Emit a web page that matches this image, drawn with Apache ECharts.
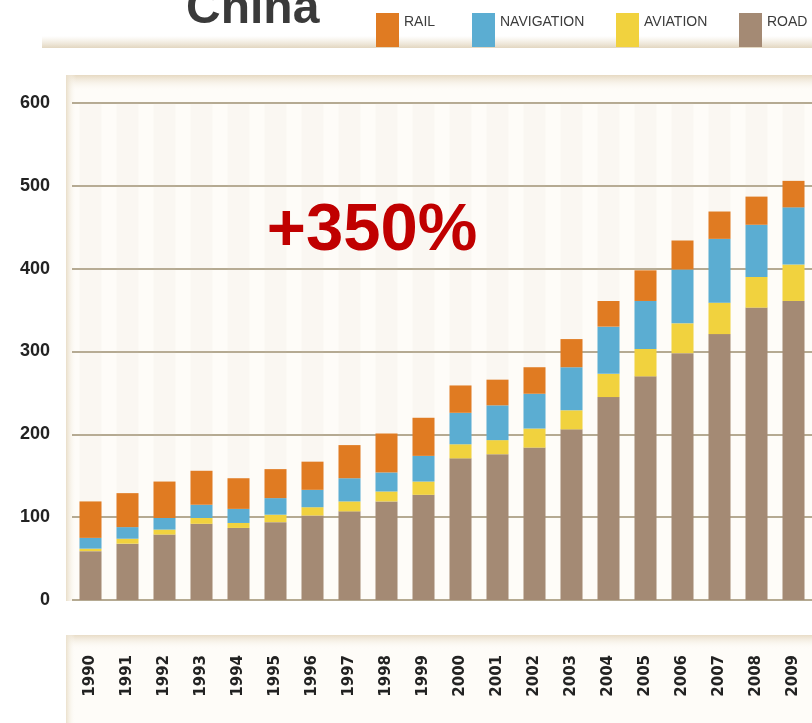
<!DOCTYPE html>
<html>
<head>
<meta charset="utf-8">
<script src="https://cdn.jsdelivr.net/npm/echarts@6/dist/echarts.min.js"></script>
<style>
  html, body { margin: 0; padding: 0; background: #fff; }
  #chart { width: 812px; height: 723px; }
</style>
</head>
<body>
<div id="chart"></div>
<script>
// transport volumes, China 1990-2009
const years = ['1990', '1991', '1992', '1993', '1994', '1995', '1996', '1997', '1998', '1999',
  '2000', '2001', '2002', '2003', '2004', '2005', '2006', '2007', '2008', '2009'];
const road = [59, 68, 79, 92, 87, 94, 102, 107, 119, 127, 171, 176, 184, 206, 245, 270, 298, 321, 353, 361];
const aviation = [3, 6, 6, 7, 6, 9, 10, 12, 12, 16, 17, 17, 23, 23, 28, 33, 36, 38, 37, 44];
const navigation = [13, 14, 14, 16, 17, 20, 21, 28, 23, 31, 38, 42, 42, 52, 57, 58, 65, 77, 63, 69];
const rail = [44, 41, 44, 41, 37, 35, 34, 40, 47, 46, 33, 31, 32, 34, 31, 37, 35, 33, 34, 32];

const legendNames = ['RAIL', 'NAVIGATION', 'AVIATION', 'ROAD'];
const legendLeft = [376, 472, 616, 739];

const colors = {
  RAIL: '#e07b22',
  NAVIGATION: '#5badd2',
  AVIATION: '#f1d23e',
  ROAD: '#a48a74'
};

const chart = echarts.init(document.getElementById('chart'));

const vGrad = (a, b) => new echarts.graphic.LinearGradient(0, 0, 0, 1, [
  { offset: 0, color: a }, { offset: 1, color: b }
]);
const hGrad = (a, b) => new echarts.graphic.LinearGradient(0, 0, 1, 0, [
  { offset: 0, color: a }, { offset: 1, color: b }
]);

function bar(name, data) {
  return {
    name: name,
    type: 'bar',
    stack: 'total',
    barWidth: 22,
    data: data,
    itemStyle: { color: colors[name] },
    showBackground: name === 'ROAD',
    backgroundStyle: { color: 'rgba(215,205,185,0.09)' }
  };
}

// one legend per item so each box sits where the reference has it
const legends = legendNames.map((name, i) => ({
  left: legendLeft[i],
  top: 13,
  padding: 0,
  itemWidth: 23,
  itemHeight: 34,
  icon: 'rect',
  selectedMode: false,
  data: [name],
  formatter: n => n + '\n ',
  textStyle: {
    fontFamily: '"Liberation Sans Narrow", "Liberation Sans", Arial, sans-serif',
    fontSize: 14,
    lineHeight: 16,
    color: '#3c3c3c'
  }
}));

const option = {
  animation: false,
  backgroundColor: '#fff',
  graphic: [
    // header rule
    { type: 'rect', z: -10, shape: { x: 42, y: 36, width: 780, height: 12 },
      style: { fill: vGrad('rgba(235,225,205,0)', '#e2d6c0') } },
    // plot panel
    { type: 'rect', z: -10, shape: { x: 66, y: 75, width: 760, height: 526 },
      style: { fill: '#fefcf8' } },
    { type: 'rect', z: -9, shape: { x: 66, y: 75, width: 760, height: 16 },
      style: { fill: vGrad('#e6d9c2', 'rgba(253,251,246,0)') } },
    { type: 'rect', z: -9, shape: { x: 66, y: 75, width: 10, height: 526 },
      style: { fill: hGrad('#e9dec9', 'rgba(253,251,246,0)') } },
    // label strip
    { type: 'rect', z: -10, shape: { x: 66, y: 635, width: 760, height: 100 },
      style: { fill: '#fefcf8' } },
    { type: 'rect', z: -9, shape: { x: 66, y: 635, width: 760, height: 14 },
      style: { fill: vGrad('#e8dcc7', 'rgba(253,251,246,0)') } },
    { type: 'rect', z: -9, shape: { x: 66, y: 635, width: 9, height: 100 },
      style: { fill: hGrad('#ebe1cd', 'rgba(253,251,246,0)') } },
    // title
    { type: 'text', x: 186, y: 10, z: 10,
      style: { text: 'China', font: 'bold 48px "Liberation Sans", Arial, sans-serif',
        fill: '#3a3a3a', verticalAlign: 'middle' } },
    // growth note
    { type: 'text', x: 372, y: 232, z: 10,
      style: { text: '+350%', font: 'bold 67px "Liberation Sans", Arial, sans-serif',
        fill: '#c00000', align: 'center', verticalAlign: 'middle' } }
  ],
  legend: legends,
  grid: { left: 72, right: -3, top: 103, bottom: 123 },
  xAxis: {
    type: 'category',
    data: years,
    axisLine: { show: false },
    axisTick: { show: false },
    axisLabel: {
      rotate: 90,
      margin: 55,
      fontFamily: '"DejaVu Sans", sans-serif',
      fontWeight: 'bold',
      fontSize: 15,
      color: '#222'
    }
  },
  yAxis: {
    type: 'value',
    min: 0,
    max: 600,
    interval: 100,
    axisLine: { show: false },
    axisTick: { show: false },
    axisLabel: {
      margin: 22,
      fontFamily: '"Liberation Sans", Arial, sans-serif',
      fontWeight: 'bold',
      fontSize: 18,
      color: '#222'
    },
    splitLine: { lineStyle: { color: '#b5aa92', width: 2 } }
  },
  series: [
    bar('ROAD', road),
    bar('AVIATION', aviation),
    bar('NAVIGATION', navigation),
    bar('RAIL', rail)
  ]
};

chart.setOption(option);
</script>
</body>
</html>
